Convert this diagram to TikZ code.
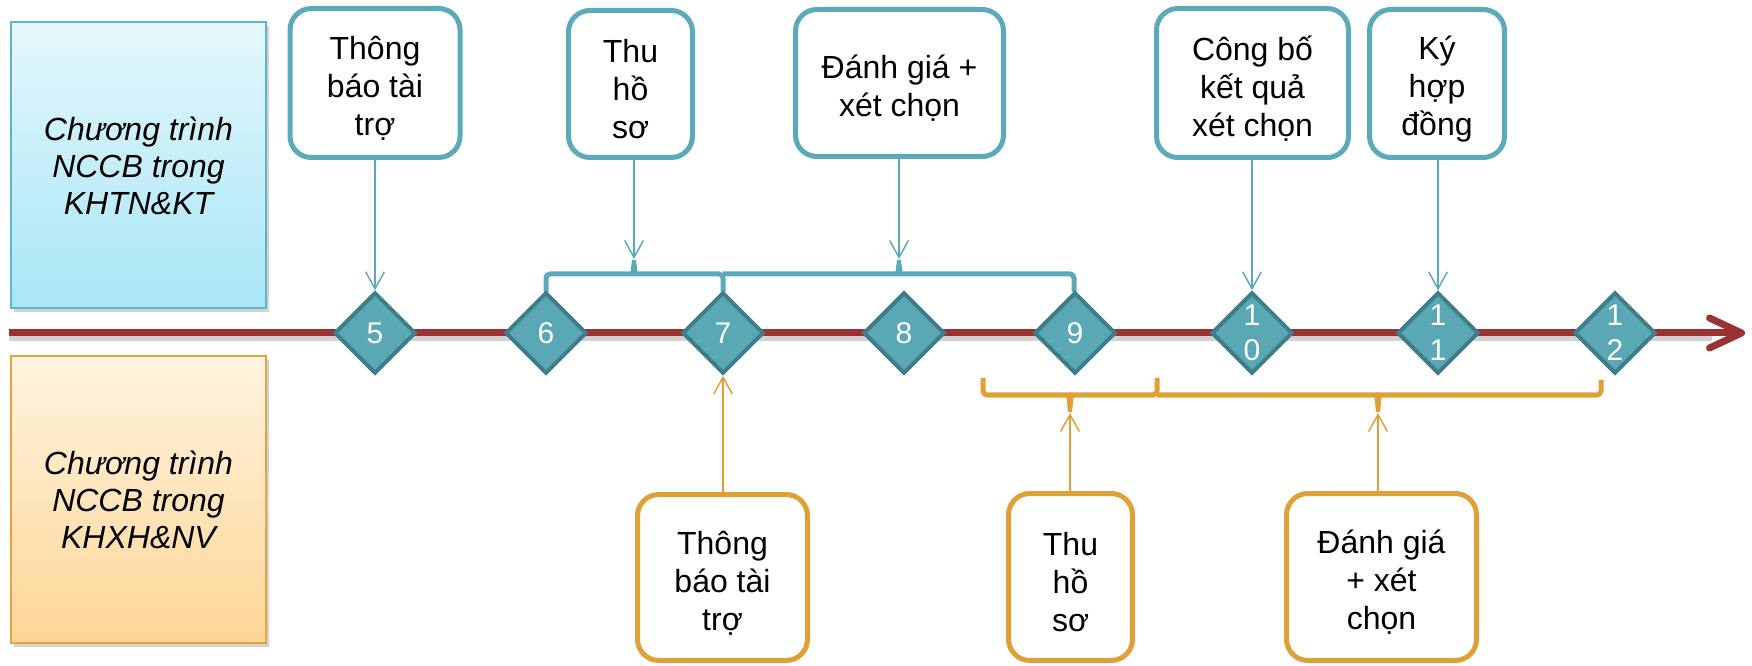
\documentclass[tikz,border=0pt]{standalone}
\usepackage{fontspec}
\setmainfont{Liberation Sans}
\usetikzlibrary{arrows.meta,shapes.geometric,shadows}
\definecolor{tealc}{RGB}{90,170,185}
\definecolor{dfill}{RGB}{90,168,180}
\definecolor{dline}{RGB}{62,126,138}
\definecolor{redc}{RGB}{152,50,52}
\definecolor{orc}{RGB}{222,160,55}
\definecolor{bluetop}{RGB}{228,247,252}
\definecolor{bluebot}{RGB}{168,230,246}
\definecolor{blueline}{RGB}{96,180,202}
\definecolor{ortop}{RGB}{255,243,224}
\definecolor{orbot}{RGB}{254,214,150}
\definecolor{orline}{RGB}{227,164,59}
\begin{document}
\begin{tikzpicture}[x=0.75pt,y=-0.75pt,
  every node/.style={inner sep=0pt},
  lanebox/.style={rectangle, line width=1.5pt, minimum width=191.25pt, minimum height=214.5pt,
    align=center, font=\itshape\fontsize{24}{27.75}\selectfont,
    drop shadow={opacity=0.35, shadow xshift=2pt, shadow yshift=-3pt}},
  stepbox/.style={rectangle, draw=tealc, fill=white, line width=3.75pt, rounded corners=16pt},
  boxtext/.style={align=center, font=\fontsize{24}{28.5}\selectfont, yshift=-4pt},
  obox/.style={stepbox, draw=orc},
  dia/.style={diamond, aspect=1, draw=dline, fill=dfill, line width=3pt,
    minimum width=61pt, minimum height=61pt, text=white, align=center,
    font=\fontsize{22.5}{26.25}\selectfont},
  tarr/.style={draw=tealc, line width=1.1pt, -{Straight Barb[length=12.75pt,width=14pt]}},
  oarr/.style={tarr, draw=orc},
  tbrack/.style={draw=tealc, line width=3.75pt, rounded corners=3pt, line join=round},
  obrack/.style={tbrack, draw=orc}
]
\useasboundingbox (0,0) rectangle (1752,666);

% lane boxes
\node[lanebox, draw=blueline, top color=bluetop, bottom color=bluebot] (laneA) at (138.5,165.5)
  {Chương trình\\NCCB trong\\KHTN\&KT};
\node[lanebox, draw=orline, top color=ortop, bottom color=orbot] (laneB) at (138.5,499.5)
  {Chương trình\\NCCB trong\\KHXH\&NV};

% timeline
\coordinate (tl0) at (9,333);
\coordinate (tl1) at (1745,333);
\draw[black, opacity=0.18, line width=5.25pt] (9,338) -- (1712,338);
\draw[redc, line width=5.25pt, line cap=butt, -{Straight Barb[length=24pt,width=22.5pt,round]}] (tl0) -- (tl1);

% brackets (teal, above)
\draw[tbrack] (546,292) -- (546,274) -- (723,274) -- (723,292);
\draw[tbrack] (723,274) -- (1074,274) -- (1074,292);
\coordinate (sA) at (634,259);
\coordinate (sB) at (899,259);
\fill[tealc] (630,276) -- (632,260) -- (636,260) -- (638,276) -- cycle;
\fill[tealc] (895,276) -- (897,260) -- (901,260) -- (903,276) -- cycle;

% brackets (orange, below)
\draw[obrack] (983,378) -- (983,395) -- (1157,395) -- (1157,378);
\draw[obrack] (1157,395) -- (1601,395) -- (1601,380);
\coordinate (sC) at (1070,413);
\coordinate (sD) at (1378,413);
\fill[orc] (1066,393) -- (1068,412) -- (1072,412) -- (1074,393) -- cycle;
\fill[orc] (1374,393) -- (1376,412) -- (1380,412) -- (1382,393) -- cycle;

% diamonds
\node[dia] (d5) at (375,333) {5};
\node[dia] (d6) at (546,333) {6};
\node[dia] (d7) at (723,333) {7};
\node[dia] (d8) at (904,333) {8};
\node[dia] (d9) at (1075,333) {9};
\node[dia] (d10) at (1252,333) {1\\0};
\node[dia] (d11) at (1438,333) {1\\1};
\node[dia] (d12) at (1615,333) {1\\2};

% top boxes
\node[stepbox, minimum width=127.5pt, minimum height=111.75pt,
  label={[boxtext]center:Thông\\báo tài\\trợ}] (t1) at (375,83) {};
\node[stepbox, minimum width=93pt, minimum height=110.25pt,
  label={[boxtext]center:Thu\\hồ\\sơ}] (t2) at (630.5,84) {};
\node[stepbox, minimum width=156pt, minimum height=110.25pt,
  label={[boxtext]center:Đánh giá +\\xét chọn}] (t3) at (899.5,83) {};
\node[stepbox, minimum width=144pt, minimum height=111.75pt,
  label={[boxtext]center:Công bố\\kết quả\\xét chọn}] (t4) at (1252.5,83) {};
\node[stepbox, minimum width=101.25pt, minimum height=111pt,
  label={[boxtext]center:Ký\\hợp\\đồng}] (t5) at (1437,83.5) {};

% bottom boxes
\node[obox, minimum width=127.5pt, minimum height=124.5pt,
  label={[boxtext]center:Thông\\báo tài\\trợ}] (b1) at (722.5,577.5) {};
\node[obox, minimum width=93pt, minimum height=125.25pt,
  label={[boxtext]center:Thu\\hồ\\sơ}] (b2) at (1070.5,577) {};
\node[obox, minimum width=142.5pt, minimum height=125.25pt,
  label={[boxtext]center:Đánh giá\\+ xét\\chọn}] (b3) at (1381.5,577) {};

% arrows
\draw[tarr] (t1.south) -- (d5.north);
\draw[tarr] (t2.south -| sA) -- (sA);
\draw[tarr] (t3.south -| sB) -- (sB);
\draw[tarr] (t4.south -| d10.north) -- (d10.north);
\draw[tarr] (t5.south -| d11.north) -- (d11.north);
\draw[oarr] (b1.north -| d7.south) -- (d7.south);
\draw[oarr] (b2.north -| sC) -- (sC);
\draw[oarr] (b3.north -| sD) -- (sD);
\end{tikzpicture}
\end{document}
